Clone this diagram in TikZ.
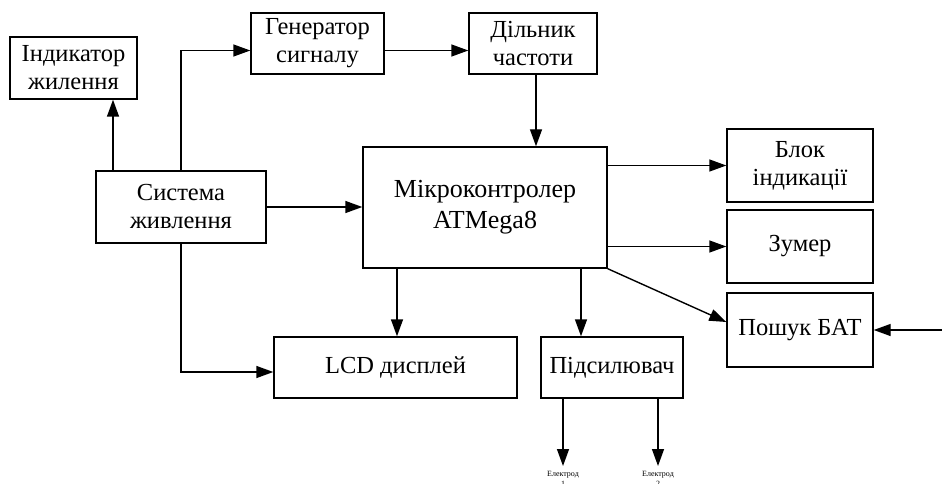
\documentclass[tikz,border=0pt]{standalone}
\usepackage{fontspec}
\setmainfont{Liberation Serif}
\usetikzlibrary{arrows.meta,positioning}

\begin{document}
\begin{tikzpicture}[x=1pt,y=-1pt,>={Triangle[length=17pt,width=12pt]}]

  \tikzstyle{block}=[rectangle,draw,line width=1.4pt,align=center,inner sep=0pt,
    font=\fontsize{24.5}{28}\selectfont]
  \tikzstyle{arr}=[->,line width=1.4pt]
  \tikzstyle{tiny}=[align=center,inner sep=0pt,font=\fontsize{8}{10}\selectfont]

  \useasboundingbox (0,0) rectangle (942,484);

  %% blocks
  \node (ind) at (73.5,68)   [block,minimum width=127pt,minimum height=62pt] {Індикатор\\жилення};
  \node (gen) at (317.5,43.5) [block,minimum width=133pt,minimum height=61pt] {Генератор\\сигналу};
  \node (div) at (533,43.5)  [block,minimum width=128pt,minimum height=61pt] {Дільник\\частоти};
  \node (pwr) at (181,207)   [block,minimum width=170pt,minimum height=72pt] {Система\\живлення};
  \node (mcu) at (485,207.5) [block,minimum width=244pt,minimum height=121pt,
                              font=\fontsize{26}{31}\selectfont] {Мікроконтролер\\ATMega8};
  \node (lcd) at (395.5,367.5) [block,minimum width=243pt,minimum height=61pt] {LCD дисплей};
  \node (amp) at (612,367.5) [block,minimum width=142pt,minimum height=61pt] {Підсилювач};
  \node (blk) at (800,165.5) [block,minimum width=146pt,minimum height=73pt] {Блок\\індикації};
  \node (buz) at (800,246.5) [block,minimum width=146pt,minimum height=73pt] {Зумер};
  \node (bat) at (800,330)   [block,minimum width=146pt,minimum height=74pt] {Пошук БАТ};

  %% electrode labels
  \node (el1) at (563,471) [tiny,anchor=north] {Електрод\\1};
  \node (el2) at (658,471) [tiny,anchor=north] {Електрод\\2};
  \coordinate (batin) at (942,330);

  %% connections
  \draw [arr] ([xshift=39.5pt]ind.south |- pwr.north) -- ([xshift=39.5pt]ind.south);
  \draw [arr] (pwr.north) |- ([yshift=-7pt]gen.west);
  \draw [arr] ([yshift=-7pt]gen.east) -- ([yshift=-7pt]div.west);
  \draw [arr] ([xshift=3pt]div.south) -- ([xshift=3pt]div.south |- mcu.north);
  \draw [arr] (pwr.east) -- (pwr.east -| mcu.west);
  \draw [arr] (pwr.south) |- ([yshift=-4.5pt]lcd.west);
  \draw [arr] ([xshift=-88pt]mcu.south) -- ([xshift=-88pt]mcu.south |- lcd.north);
  \draw [arr] ([xshift=96pt]mcu.south) -- ([xshift=96pt]mcu.south |- amp.north);
  \draw [arr] (mcu.east |- blk) -- (blk.west);
  \draw [arr] (mcu.east |- buz) -- (buz.west);
  \draw [arr] (mcu.south east) -- ([yshift=8pt]bat.west);
  \draw [arr] (batin) -- (bat.east);
  \draw [arr] ([xshift=-49pt]amp.south) -- ([yshift=5pt]el1.north);
  \draw [arr] ([xshift=46pt]amp.south) -- ([yshift=5pt]el2.north);
\end{tikzpicture}
\end{document}
